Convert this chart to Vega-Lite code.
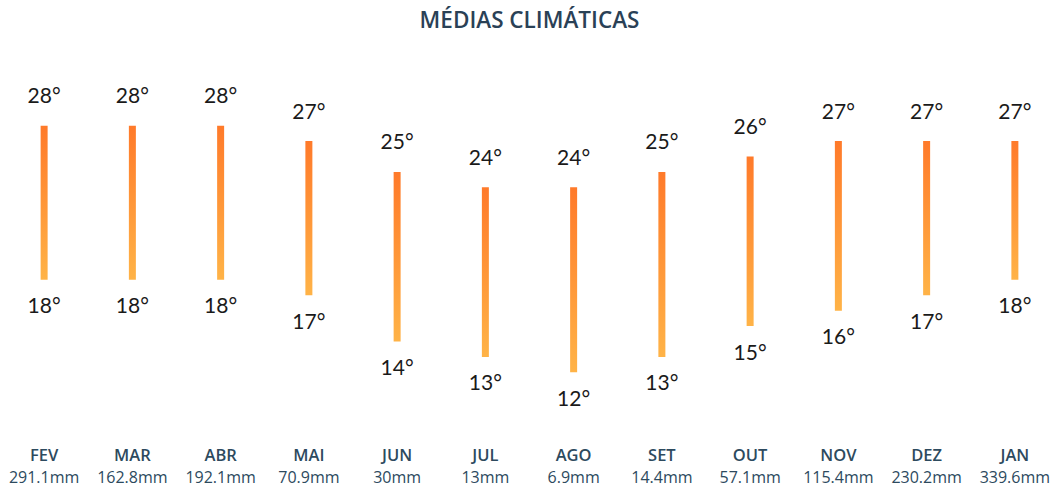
{
  "$schema": "https://vega.github.io/schema/vega-lite/v6.json",
  "width": 1059,
  "height": 362,
  "padding": {"left": 0, "right": 0, "top": 9, "bottom": 0},
  "background": "white",
  "title": {"text": "MÉDIAS CLIMÁTICAS", "fontSize": 22.5, "font": "Open Sans", "fontWeight": 600, "color": "#2a4156", "anchor": "middle", "offset": 32},
  "config": {"view": {"stroke": null}},
  "data": {"values": [
    {"mes": "FEV", "max": 28, "min": 18, "chuva": 291.1},
    {"mes": "MAR", "max": 28, "min": 18, "chuva": 162.8},
    {"mes": "ABR", "max": 28, "min": 18, "chuva": 192.1},
    {"mes": "MAI", "max": 27, "min": 17, "chuva": 70.9},
    {"mes": "JUN", "max": 25, "min": 14, "chuva": 30},
    {"mes": "JUL", "max": 24, "min": 13, "chuva": 13},
    {"mes": "AGO", "max": 24, "min": 12, "chuva": 6.9},
    {"mes": "SET", "max": 25, "min": 13, "chuva": 14.4},
    {"mes": "OUT", "max": 26, "min": 15, "chuva": 57.1},
    {"mes": "NOV", "max": 27, "min": 16, "chuva": 115.4},
    {"mes": "DEZ", "max": 27, "min": 17, "chuva": 230.2},
    {"mes": "JAN", "max": 27, "min": 18, "chuva": 339.6}
  ]},
  "layer": [
    {
      "encoding": {
        "x": {"field": "mes", "type": "nominal", "sort": null,
          "scale": {"paddingInner": 0, "paddingOuter": 0},
          "axis": {"orient": "bottom", "title": null, "domain": false, "ticks": false, "tickSize": 0, "labelAngle": 0,
            "labelFont": "Open Sans", "labelFontSize": 16.5, "labelFontWeight": 600, "labelColor": "#2d4a5e", "labelPadding": 21}}
      },
      "layer": [
        {
          "mark": {"type": "bar", "size": 7, "color": {"gradient": "linear", "x1": 0, "y1": 0, "x2": 0, "y2": 1,
            "stops": [{"offset": 0, "color": "#FF7A2A"}, {"offset": 1, "color": "#FFB347"}]}},
          "encoding": {
            "y": {"field": "min", "type": "quantitative", "scale": {"domain": [8.52, 32], "nice": false, "zero": false}, "axis": null},
            "y2": {"field": "max"}
          }
        },
        {
          "mark": {"type": "text", "font": "Lato", "fontSize": 21, "color": "#1a1a1a", "baseline": "alphabetic", "dy": -22.5, "text": {"expr": "datum.max + '°'"}},
          "encoding": {"y": {"field": "max", "type": "quantitative"}}
        },
        {
          "mark": {"type": "text", "font": "Lato", "fontSize": 21, "color": "#1a1a1a", "baseline": "alphabetic", "dy": 33.5, "text": {"expr": "datum.min + '°'"}},
          "encoding": {"y": {"field": "min", "type": "quantitative"}}
        }
      ]
    },
    {
      "mark": {"type": "tick", "opacity": 0},
      "encoding": {
        "x": {"field": "chuva", "type": "nominal", "sort": null,
          "scale": {"paddingInner": 0, "paddingOuter": 0},
          "axis": {"orient": "bottom", "title": null, "domain": false, "ticks": false, "tickSize": 0, "labelAngle": 0,
            "labelExpr": "datum.label + 'mm'",
            "labelFont": "Open Sans", "labelFontSize": 16, "labelColor": "#2d4a5e", "labelPadding": 43}}
      }
    }
  ],
  "resolve": {"scale": {"x": "independent"}, "axis": {"x": "independent"}}
}
